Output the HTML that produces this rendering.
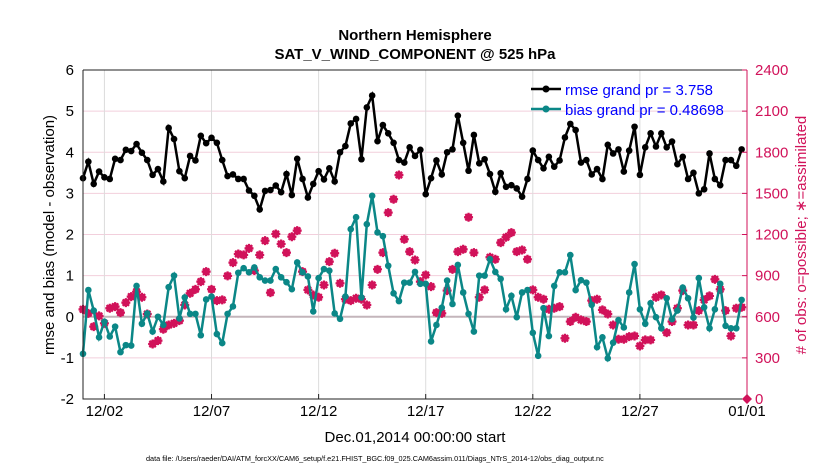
<!DOCTYPE html>
<html><head><meta charset="utf-8"><style>
body{margin:0;background:#fff;}
svg text{font-family:"Liberation Sans",sans-serif;}
</style></head><body>
<svg id="chart" width="830" height="470" xmlns="http://www.w3.org/2000/svg">
<rect x="0" y="0" width="830" height="470" fill="#fff"/>
<text x="415" y="40" text-anchor="middle" font-size="15" font-weight="bold">Northern Hemisphere</text>
<text x="415" y="59" text-anchor="middle" font-size="15" font-weight="bold">SAT_V_WIND_COMPONENT @ 525 hPa</text>
<g id="grid"></g>
<g id="marks"></g>
<g id="axes"></g>
<text transform="translate(54,235) rotate(-90)" text-anchor="middle" font-size="15">rmse and bias (model - observation)</text>
<text transform="translate(806,235) rotate(-90)" text-anchor="middle" font-size="15" fill="#d1125a"># of obs: o=possible; ∗=assimilated</text>
<text x="415" y="442" text-anchor="middle" font-size="15">Dec.01,2014 00:00:00 start</text>
<text x="146" y="461" font-size="7.3">data file: /Users/raeder/DAI/ATM_forcXX/CAM6_setup/f.e21.FHIST_BGC.f09_025.CAM6assim.011/Diags_NTrS_2014-12/obs_diag_output.nc</text>
<g>
<line x1="531" y1="89" x2="561" y2="89" stroke="#000" stroke-width="2.5"/>
<circle cx="546" cy="89" r="3.5" fill="#000"/>
<text x="565" y="95" font-size="15" fill="#0000ff">rmse grand pr = 3.758</text>
<line x1="531" y1="109" x2="561" y2="109" stroke="#0b8787" stroke-width="2.5"/>
<circle cx="546" cy="109" r="3.5" fill="#0b8787"/>
<text x="565" y="115" font-size="15" fill="#0000ff">bias grand pr = 0.48698</text>
</g>
</svg>
<script>
const xTickLabels=["12/02","12/07","12/12","12/17","12/22","12/27","01/01"];
const xTickDays=[1,6,11,16,21,26,31];
const yTicks=[-2,-1,0,1,2,3,4,5,6];
const y2Ticks=[0,300,600,900,1200,1500,1800,2100,2400];
const rmse=[3.37,3.77,3.23,3.53,3.39,3.35,3.84,3.81,4.06,4.03,4.2,3.99,3.81,3.45,3.59,3.29,4.59,4.32,3.54,3.37,3.91,3.8,4.4,4.22,4.35,4.23,3.81,3.42,3.46,3.35,3.35,3.07,2.94,2.61,3.06,3.08,3.19,3.03,3.47,2.96,3.84,3.35,2.9,3.23,3.54,3.34,3.61,3.29,4.0,4.15,4.7,4.81,3.83,5.09,5.38,4.27,4.66,4.46,4.23,3.81,3.75,4.12,3.91,4.06,2.98,3.37,3.8,3.46,4.0,4.07,4.89,4.23,3.55,4.42,3.73,3.83,3.47,3.04,3.49,3.16,3.2,3.12,2.92,3.35,4.04,3.81,3.61,3.89,3.65,3.8,4.36,4.69,4.54,3.75,3.81,3.46,3.59,3.35,4.18,3.97,4.07,3.53,4.04,4.62,3.45,4.12,4.46,4.14,4.46,4.12,4.26,3.71,3.89,3.35,3.5,3.0,3.1,3.97,3.35,3.2,3.81,3.81,3.67,4.07];
const bias=[-0.9,0.65,0.15,-0.5,-0.12,-0.48,-0.24,-0.86,-0.69,-0.7,0.75,-0.17,0.08,-0.36,0.0,-0.2,0.72,1.0,-0.04,0.47,0.07,0.07,-0.45,0.42,0.49,-0.42,-0.64,0.07,0.25,1.07,1.18,1.08,1.2,0.96,0.88,0.88,1.16,0.96,0.84,0.67,1.32,1.08,0.98,0.13,0.94,1.16,1.12,0.08,-0.05,0.49,2.13,2.42,0.47,2.25,2.94,2.05,1.96,1.24,0.57,0.38,0.83,0.83,1.09,0.8,0.8,-0.6,-0.2,0.22,0.88,0.31,1.26,0.59,0.07,-0.36,1.0,1.0,1.4,1.09,0.92,0.18,0.51,-0.01,0.59,0.65,-0.39,-0.95,0.21,-0.47,0.75,1.08,1.08,1.5,0.65,0.89,0.83,0.29,-0.74,-0.5,-1.01,-0.63,-0.08,-0.26,0.59,1.28,0.18,-0.17,0.33,-0.01,-0.28,0.45,-0.06,0.15,0.71,0.45,-0.02,0.94,0.23,-0.28,0.18,0.8,-0.22,-0.28,-0.28,0.41];
const nObs=[654,625,528,606,552,662,674,630,703,747,783,742,620,401,426,509,540,552,572,686,771,800,856,929,800,718,723,898,995,1058,1051,1099,937,1051,1155,776,1204,1131,1068,1184,1228,929,796,759,742,832,1002,1063,844,728,718,735,728,686,832,946,1068,1360,1457,1634,1165,1075,1014,856,905,820,630,625,791,946,1075,1092,1326,1068,742,796,1034,1019,1141,1180,1214,1075,1087,1019,796,742,728,655,662,674,443,565,596,577,565,718,728,650,620,540,436,436,455,460,387,431,431,742,759,484,565,662,791,540,540,645,723,752,873,800,645,460,662,669];
const NS="http://www.w3.org/2000/svg";
const X0=83,X1=747,Y0=70,Y1=399;
const xs=d=>X0+(d/31)*(X1-X0);
const ys=v=>Y0+(6-v)/8*(Y1-Y0);
const ys2=c=>Y0+(2400-c)/2400*(Y1-Y0);
const xi=i=>xs(i*0.25);
function mk(tag,parent){const e=document.createElementNS(NS,tag);document.getElementById(parent).appendChild(e);return e;}
// grid
yTicks.forEach(v=>{const l=mk('line','grid');l.setAttribute('x1',X0);l.setAttribute('x2',X1);l.setAttribute('y1',ys(v));l.setAttribute('y2',ys(v));l.setAttribute('stroke','#f2cfdc');l.setAttribute('stroke-width','1');

});
xTickDays.forEach(d=>{const l=mk('line','grid');l.setAttribute('x1',xs(d));l.setAttribute('x2',xs(d));l.setAttribute('y1',Y0);l.setAttribute('y2',Y1);l.setAttribute('stroke','#dcdcdc');l.setAttribute('stroke-width','1');

});
const z=mk('line','grid');z.setAttribute('x1',X0);z.setAttribute('x2',X1);z.setAttribute('y1',ys(0));z.setAttribute('y2',ys(0));z.setAttribute('stroke','#c4b5bb');z.setAttribute('stroke-width','2');


// obs markers
nObs.forEach((c,i)=>{const g=mk('g','marks');


const x=xi(i),y=ys2(c);
const ci=document.createElementNS(NS,'circle');ci.setAttribute('cx',x);ci.setAttribute('cy',y);ci.setAttribute('r',3);ci.setAttribute('fill','none');ci.setAttribute('stroke','#d1125a');ci.setAttribute('stroke-width','1.5');g.appendChild(ci);
const p=document.createElementNS(NS,'path');p.setAttribute('d',`M${x-4.5},${y}h9M${x},${y-4.5}v9M${x-3.2},${y-3.2}l6.4,6.4M${x-3.2},${y+3.2}l6.4,-6.4`);p.setAttribute('stroke','#d1125a');p.setAttribute('stroke-width','2.2');g.appendChild(p);});
// series lines
function series(vals,color,name){const pl=mk('polyline','marks');pl.setAttribute('points',vals.map((v,i)=>xi(i)+','+ys(v)).join(' '));pl.setAttribute('fill','none');pl.setAttribute('stroke',color);pl.setAttribute('stroke-width','2.5');


vals.forEach((v,i)=>{const c=mk('circle','marks');c.setAttribute('cx',xi(i));c.setAttribute('cy',ys(v));c.setAttribute('r',3.3);c.setAttribute('fill',color);

});}
series(rmse,'#000','rmse');
series(bias,'#0b8787','bias');
// axes
const fr=mk('path','axes');fr.setAttribute('d',`M${X0},${Y0}H${X1}M${X0},${Y0}V${Y1}H${X1}`);fr.setAttribute('stroke','#222');fr.setAttribute('fill','none');fr.setAttribute('stroke-width','1');


const ra=mk('line','axes');ra.setAttribute('x1',X1);ra.setAttribute('x2',X1);ra.setAttribute('y1',Y0);ra.setAttribute('y2',Y1);ra.setAttribute('stroke','#d1125a');


yTicks.forEach(v=>{const t=mk('text','axes');t.setAttribute('x',X0-9);t.setAttribute('y',ys(v)+5);t.setAttribute('text-anchor','end');t.setAttribute('font-size','15');t.textContent=v;

});
y2Ticks.forEach(c=>{const t=mk('text','axes');t.setAttribute('x',X1+8);t.setAttribute('y',ys2(c)+5);t.setAttribute('font-size','15');t.setAttribute('fill','#d1125a');t.textContent=c;


const k=mk('line','axes');k.setAttribute('x1',X1-5);k.setAttribute('x2',X1);k.setAttribute('y1',ys2(c));k.setAttribute('y2',ys2(c));k.setAttribute('stroke','#d1125a');

});
xTickDays.forEach((d,i)=>{const t=mk('text','axes');t.setAttribute('x',xs(d));t.setAttribute('y',416);t.setAttribute('text-anchor','middle');t.setAttribute('font-size','15');t.textContent=xTickLabels[i];


const k=mk('line','axes');k.setAttribute('x1',xs(d));k.setAttribute('x2',xs(d));k.setAttribute('y1',Y1-5);k.setAttribute('y2',Y1);k.setAttribute('stroke','#222');

});
const dm=mk('path','axes');dm.setAttribute('d',`M${X1-5},${Y1}l5,-5l5,5l-5,5z`);dm.setAttribute('fill','#d1125a');


</script>
</body></html>
